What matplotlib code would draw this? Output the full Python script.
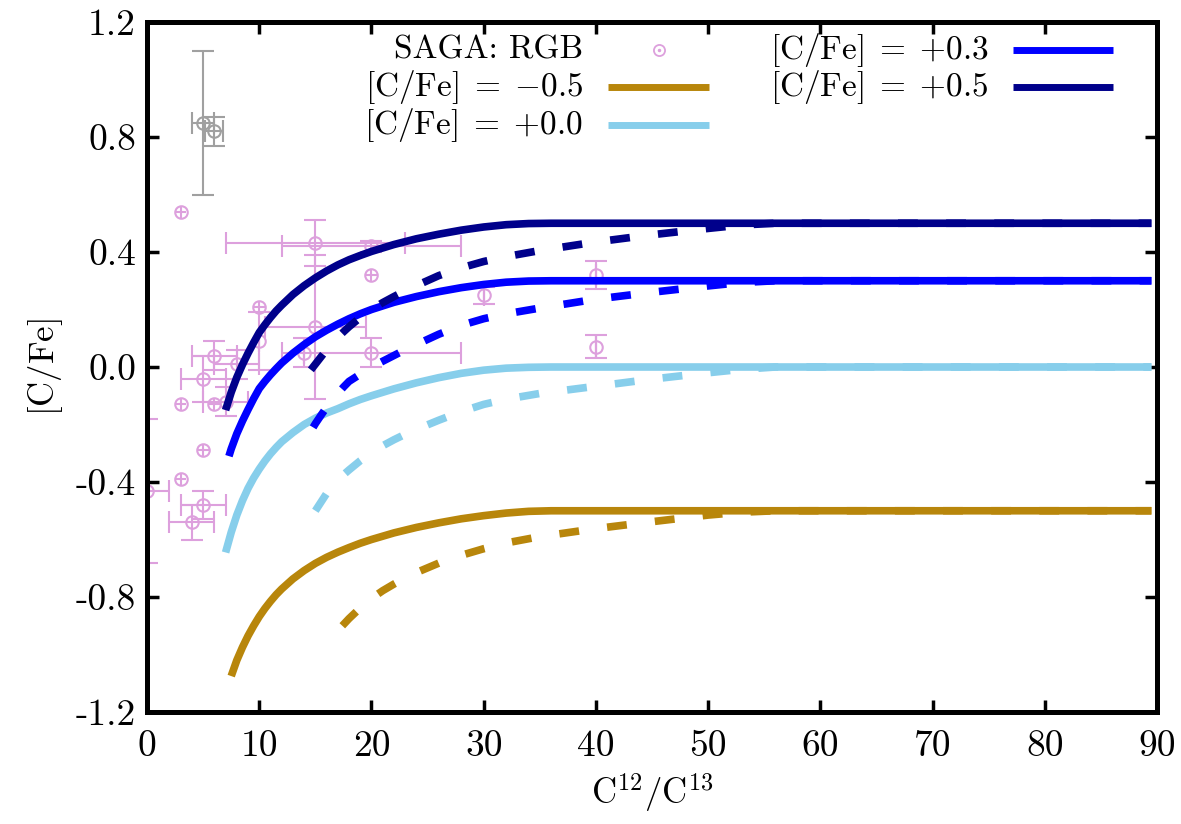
import matplotlib
matplotlib.use("Agg")
import matplotlib.pyplot as plt

plt.rcParams['font.family'] = 'serif'
plt.rcParams['font.serif'] = ['cmr10']
plt.rcParams['mathtext.fontset'] = 'cm'
plt.rcParams['axes.unicode_minus'] = False
plt.rcParams['axes.formatter.use_mathtext'] = True

# SAGA RGB stars with error bars
saga_x = [15, 15, 20, 20, 14, 30, 40, 40, 10, 6, 8, 5, 7, 5, 4, 0]
saga_y = [0.43, 0.14, 0.42, 0.05, 0.05, 0.25, 0.32, 0.07, 0.09, 0.04, 0.01, -0.04, -0.12, -0.48, -0.54, -0.43]
saga_xerr = [8, 4.5, 8, 8, 0, 0, 0, 0, 0, 2, 2, 2, 2, 2, 2, 2]
saga_yerr = [0.08, 0.25, 0.02, 0.05, 0.05, 0.03, 0.05, 0.04, 0.1, 0.05, 0.05, 0.08, 0.05, 0.05, 0.06, 0.25]

# SAGA RGB stars with tiny errors
saga_small_x = [3, 10, 20, 3, 6, 5, 3]
saga_small_y = [0.54, 0.21, 0.32, -0.13, -0.13, -0.29, -0.39]

# the two grey outliers
grey_x = [5, 6]
grey_y = [0.85, 0.82]
grey_xerr = [1, 0.8]
grey_yerr = [0.25, 0.05]

# model tracks, solid
navy_x = [7.0, 7.5, 8, 8.5, 9, 9.5, 10, 10.5, 11, 11.5, 12, 13, 14, 15, 16, 17, 18, 19, 20, 22, 24, 26, 28, 30, 32, 34, 36, 89.5]
navy_y = [-0.15, -0.088, -0.036, 0.008, 0.048, 0.085, 0.12, 0.147, 0.172, 0.195, 0.215, 0.252, 0.283, 0.31, 0.334, 0.355, 0.373, 0.388, 0.402, 0.426, 0.446, 0.462, 0.476, 0.487, 0.495, 0.499, 0.5, 0.5]
blue_x = [7.3, 7.5, 8, 8.5, 9, 9.5, 10, 10.5, 11, 11.5, 12, 13, 14, 15, 16, 17, 18, 19, 20, 22, 24, 26, 28, 30, 32, 34, 36, 89.5]
blue_y = [-0.31, -0.285, -0.232, -0.188, -0.148, -0.11, -0.075, -0.05, -0.027, -0.006, 0.014, 0.048, 0.078, 0.105, 0.128, 0.149, 0.168, 0.185, 0.2, 0.225, 0.245, 0.262, 0.276, 0.287, 0.295, 0.299, 0.3, 0.3]
sky_x = [7.0, 7.5, 8, 8.5, 9, 9.5, 10, 10.5, 11, 11.5, 12, 13, 14, 15, 16, 17, 18, 19, 20, 22, 24, 26, 28, 30, 32, 34, 36, 89.5]
sky_y = [-0.645, -0.575, -0.515, -0.465, -0.422, -0.386, -0.355, -0.327, -0.302, -0.28, -0.26, -0.228, -0.2, -0.178, -0.16, -0.145, -0.128, -0.113, -0.1, -0.076, -0.055, -0.037, -0.022, -0.011, -0.004, -0.001, 0.0, 0.0]
gold_x = [7.5, 8, 8.5, 9, 9.5, 10, 10.5, 11, 11.5, 12, 13, 14, 15, 16, 17, 18, 19, 20, 22, 24, 26, 28, 30, 32, 34, 36, 89.5]
gold_y = [-1.075, -1.02, -0.975, -0.935, -0.9, -0.868, -0.84, -0.815, -0.792, -0.772, -0.737, -0.708, -0.683, -0.662, -0.644, -0.628, -0.613, -0.6, -0.577, -0.558, -0.542, -0.528, -0.517, -0.508, -0.502, -0.5, -0.5]

# model tracks, dashed
navy_d_x = [14.6, 15, 15.5, 16, 16.5, 17, 17.5, 18, 19, 20, 21, 22, 23, 24, 26, 28, 30, 32, 35, 40, 45, 50, 53, 56, 89.5]
navy_d_y = [-0.01, 0.01, 0.035, 0.06, 0.082, 0.103, 0.122, 0.14, 0.172, 0.2, 0.224, 0.245, 0.265, 0.283, 0.318, 0.345, 0.367, 0.384, 0.405, 0.435, 0.46, 0.482, 0.494, 0.5, 0.5]
blue_d_x = [14.8, 15, 15.5, 16, 16.5, 17, 17.5, 18, 19, 20, 21, 22, 23, 24, 26, 28, 30, 32, 35, 40, 45, 50, 53, 56, 89.5]
blue_d_y = [-0.21, -0.197, -0.168, -0.14, -0.115, -0.092, -0.07, -0.05, -0.025, 0.0, 0.02, 0.04, 0.06, 0.078, 0.114, 0.145, 0.168, 0.185, 0.205, 0.236, 0.26, 0.282, 0.294, 0.3, 0.3]
sky_d_x = [15, 15.5, 16, 16.5, 17, 17.5, 18, 19, 20, 21, 22, 23, 24, 26, 28, 30, 32, 35, 40, 45, 50, 53, 56, 89.5]
sky_d_y = [-0.5, -0.47, -0.44, -0.415, -0.395, -0.375, -0.358, -0.326, -0.298, -0.274, -0.253, -0.234, -0.217, -0.185, -0.155, -0.13, -0.112, -0.092, -0.067, -0.042, -0.02, -0.008, 0.0, 0.0]
gold_d_x = [17.4, 18, 19, 20, 21, 22, 23, 24, 26, 28, 30, 32, 35, 40, 45, 50, 53, 56, 89.5]
gold_d_y = [-0.9, -0.875, -0.838, -0.805, -0.778, -0.755, -0.734, -0.715, -0.682, -0.655, -0.632, -0.612, -0.59, -0.562, -0.538, -0.515, -0.505, -0.5, -0.5]

xticks = [0, 10, 20, 30, 40, 50, 60, 70, 80, 90]
yticks = [-1.2, -0.8, -0.4, 0.0, 0.4, 0.8, 1.2]
ytick_labels = ['-1.2', '-0.8', '-0.4', '0.0', '0.4', '0.8', '1.2']

PINK = '#dda0dd'
GREY = '#a0a0a0'
GOLD = '#b8860b'
SKY = '#87ceeb'
BLUE = '#0000ff'
NAVY = '#00008b'

fig = plt.figure(figsize=(11.81, 8.24), dpi=100)
ax = fig.add_axes([0.1245, 0.1359, 0.8552, 0.8374])

ax.errorbar(grey_x, grey_y, xerr=grey_xerr, yerr=grey_yerr, fmt='o', ms=9,
            mfc='none', mec=GREY, mew=1.5, ecolor=GREY, elinewidth=1.5,
            capsize=8, capthick=1.5, zorder=2)
ax.errorbar(saga_x, saga_y, xerr=saga_xerr, yerr=saga_yerr, fmt='o', ms=9,
            mfc='none', mec=PINK, mew=1.5, ecolor=PINK, elinewidth=1.5,
            capsize=8, capthick=1.5, zorder=2)
ax.errorbar(saga_small_x, saga_small_y, xerr=0.5, yerr=0.02, fmt='o', ms=9,
            mfc='none', mec=PINK, mew=1.5, ecolor=PINK, elinewidth=1.5,
            capsize=0, zorder=2)

lw = 5.5
for x, y, c in [(gold_x, gold_y, GOLD), (sky_x, sky_y, SKY),
                (blue_x, blue_y, BLUE), (navy_x, navy_y, NAVY)]:
    ax.plot(x, y, color=c, lw=lw, solid_capstyle='butt', solid_joinstyle='round', zorder=3)
for x, y, c in [(gold_d_x, gold_d_y, GOLD), (sky_d_x, sky_d_y, SKY),
                (blue_d_x, blue_d_y, BLUE), (navy_d_x, navy_d_y, NAVY)]:
    ax.plot(x, y, color=c, lw=lw, dashes=(2.6, 3.7), dash_capstyle='butt', zorder=3)

ax.set_xlim(0, 90)
ax.set_ylim(-1.2, 1.2)
ax.set_xticks(xticks)
ax.set_xticklabels([str(t) for t in xticks])
ax.set_yticks(yticks)
ax.set_yticklabels(ytick_labels)
ax.tick_params(direction='in', length=8.5, width=2.5, top=True, right=True,
               labelsize=27, color='black')
ax.tick_params(axis='x', pad=13)
ax.tick_params(axis='y', pad=8)
for s in ax.spines.values():
    s.set_linewidth(3.6)

ax.set_xlabel(r'$\mathrm{C}^{12}/\mathrm{C}^{13}$', fontsize=25, labelpad=6)
ax.set_ylabel(r'$[\mathrm{C/Fe}]$', fontsize=25, labelpad=8)

# key, two columns, text right-aligned before the sample
tr = ax.transAxes
fs = 24
ax.text(0.4317, 0.9594, 'SAGA: RGB', transform=tr, ha='right', va='center', fontsize=fs)
ax.plot([0.507], [0.9594], 'o', ms=8, mfc='none', mec=PINK, mew=1.3, transform=tr, clip_on=False)
ax.plot([0.507], [0.9594], 'o', ms=1.5, color=PINK, transform=tr, clip_on=False)
rows = [(0.4317, 0.4568, 0.5568, 0.9058, r'$[\mathrm{C/Fe}]\;=\;{-}0.5$', GOLD),
        (0.4317, 0.4568, 0.5568, 0.8507, r'$[\mathrm{C/Fe}]\;=\;{+}0.0$', SKY),
        (0.833, 0.8577, 0.9567, 0.9594, r'$[\mathrm{C/Fe}]\;=\;{+}0.3$', BLUE),
        (0.833, 0.8577, 0.9567, 0.9058, r'$[\mathrm{C/Fe}]\;=\;{+}0.5$', NAVY)]
for tx, x0, x1, y, label, c in rows:
    ax.text(tx, y, label, transform=tr, ha='right', va='center', fontsize=fs)
    ax.plot([x0, x1], [y, y], color=c, lw=5, transform=tr, solid_capstyle='butt')

fig.savefig('out.png', dpi=100)
